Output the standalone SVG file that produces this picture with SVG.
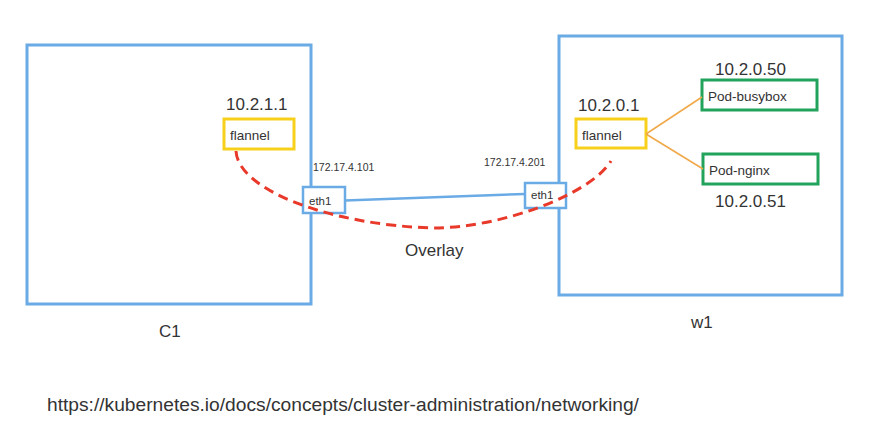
<svg xmlns="http://www.w3.org/2000/svg" width="882" height="421" viewBox="0 0 882 421">
<style>
text{font-family:"Liberation Sans",Arial,sans-serif;fill:#333}
.host{fill:#fff;stroke:#6aabe6;stroke-width:3}
.nic{fill:#fff;stroke:#6aabe6;stroke-width:2.5}
.fl{fill:#fff;stroke:#f7d01c;stroke-width:3}
.pod{fill:#fff;stroke:#21a35c;stroke-width:3}
.ip{font-size:17px}
.lbl{font-size:13.5px}
.eth{font-size:11.5px}
.addr{font-size:10.5px}
.name{font-size:17px}
</style>
<rect width="882" height="421" fill="#fff"/>
<g id="c1">
<rect class="host" x="27" y="45" width="284" height="259"/>
<text class="name" x="159" y="337">C1</text>
</g>
<g id="w1">
<rect class="host" x="559" y="36" width="283" height="259"/>
<text class="name" x="691" y="328">w1</text>
</g>
<g id="c1-flannel">
<text class="ip" x="226" y="110">10.2.1.1</text>
<rect class="fl" x="224" y="119" width="70" height="30"/>
<text class="lbl" x="230" y="140">flannel</text>
</g>
<g id="w1-flannel">
<text class="ip" x="578" y="111">10.2.0.1</text>
<rect class="fl" x="576" y="119" width="70" height="29"/>
<text class="lbl" x="582" y="140">flannel</text>
</g>
<g id="pod-busybox">
<text class="ip" x="715" y="75">10.2.0.50</text>
<rect class="pod" x="702" y="80" width="115" height="30"/>
<text class="lbl" x="708" y="100.5">Pod-busybox</text>
</g>
<g id="pod-nginx">
<rect class="pod" x="703" y="154" width="115" height="30"/>
<text class="lbl" x="709" y="174.5">Pod-nginx</text>
<text class="ip" x="715" y="207">10.2.0.51</text>
</g>
<g id="c1-eth1">
<text class="addr" x="313" y="171">172.17.4.101</text>
<rect class="nic" x="303" y="187" width="42" height="26"/>
<text class="eth" x="309" y="205">eth1</text>
</g>
<g id="w1-eth1">
<text class="addr" x="484" y="166">172.17.4.201</text>
<rect class="nic" x="525" y="183" width="41" height="25"/>
<text class="eth" x="531" y="199">eth1</text>
</g>
<g id="connectors">
<line x1="345" y1="200.5" x2="525" y2="194" stroke="#6aabe6" stroke-width="2.5"/>
<line x1="646" y1="134" x2="702" y2="97" stroke="#f0a848" stroke-width="1.5"/>
<line x1="646" y1="134" x2="703" y2="169" stroke="#f0a848" stroke-width="1.5"/>
<path d="M236,151 C238,190 330,225 433,228 C500,228 590,195 611,161" fill="none" stroke="#e8392a" stroke-width="3" stroke-dasharray="10,6"/>
<text class="ip" x="405" y="256">Overlay</text>
</g>
<text x="47" y="411" font-size="19.2">https://kubernetes.io/docs/concepts/cluster-administration/networking/</text>
</svg>
